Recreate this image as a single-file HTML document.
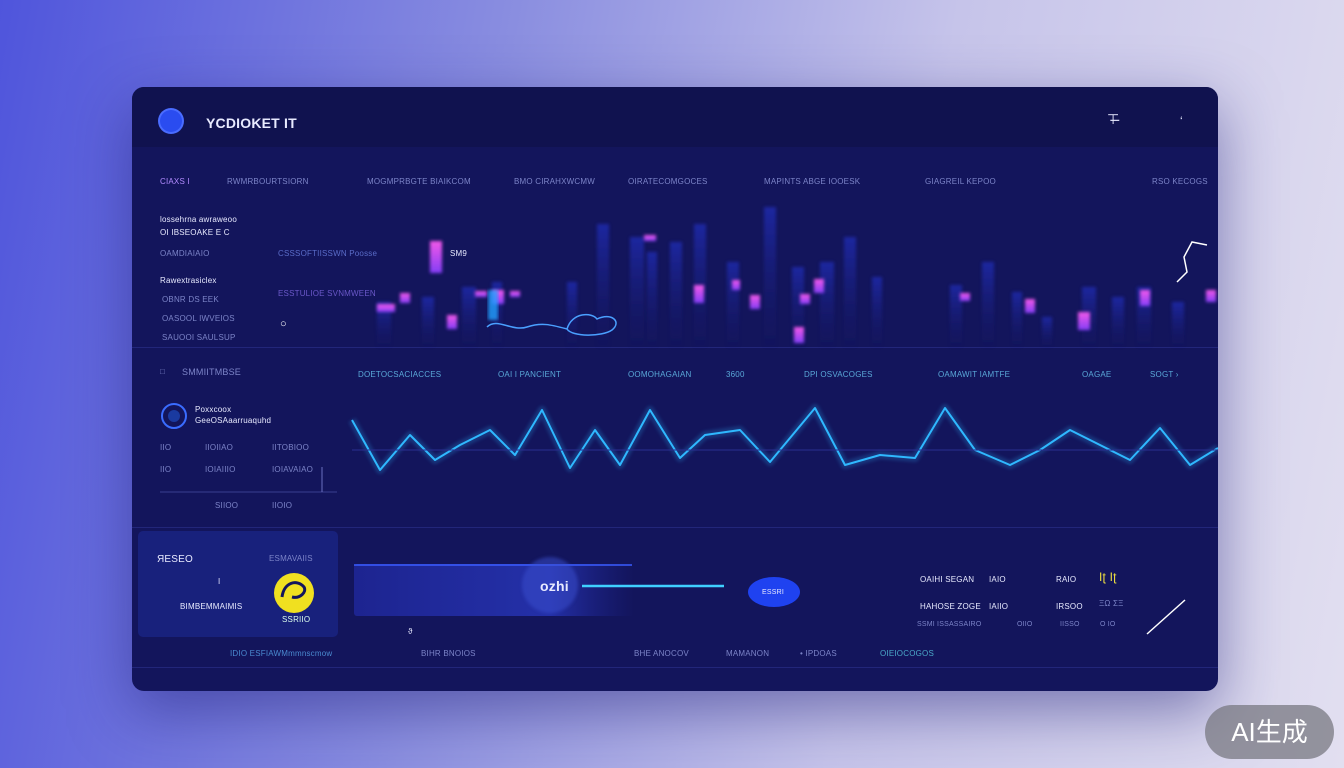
<!DOCTYPE html><html><head><meta charset="utf-8"><style>
body{margin:0;width:1344px;height:768px;overflow:hidden;background:linear-gradient(100deg,#4f55dc 0%,#8a8ee0 35%,#c6c4ea 65%,#e2dff0 100%);font-family:"Liberation Sans",sans-serif;position:relative}
.p{position:absolute;left:132px;top:87px;width:1086px;height:604px;background:#13155c;border-radius:12px;box-shadow:0 20px 60px rgba(30,30,120,.5);overflow:hidden}
.t{position:absolute;color:#7c84c8;font-size:8px;white-space:nowrap;letter-spacing:.2px}
.w{color:#e8eaff}
</style></head><body>
<div class="p">
<div style="position:absolute;left:0;top:0;width:1086px;height:60px;background:#10124f"></div>
<div style="position:absolute;left:28px;top:23px;width:22px;height:22px;border-radius:50%;background:#2a4cf0;box-shadow:0 0 0 2px #4a6cff"></div>
<div class="t w" style="left:74px;top:28px;font-size:14px;font-weight:bold">YCDIOKET IT</div>
<div class="t w" style="left:975px;top:24px;font-size:14px">⊤̶</div>
<div class="t w" style="left:1048px;top:27px;font-size:12px">‘</div>
<div style="position:absolute;left:0;top:260px;width:1086px;height:1px;background:#22267a"></div>
<div style="position:absolute;left:0;top:440px;width:1086px;height:1px;background:#22267a"></div>
<div style="position:absolute;left:0;top:580px;width:1086px;height:1px;background:#22267a"></div>
<div class="t" style="left:28px;top:90px;color:#b28bff">CIAXS I</div>
<div class="t" style="left:95px;top:90px">RWMRBOURTSIORN</div>
<div class="t" style="left:235px;top:90px">MOGMPRBGTE BIAIKCOM</div>
<div class="t" style="left:382px;top:90px">BMO CIRAHXWCMW</div>
<div class="t" style="left:496px;top:90px">OIRATECOMGOCES</div>
<div class="t" style="left:632px;top:90px">MAPINTS ABGE IOOESK</div>
<div class="t" style="left:793px;top:90px">GIAGREIL KEPOO</div>
<div class="t" style="left:1020px;top:90px">RSO KECOGS</div>
<div class="t w" style="left:28px;top:128px">lossehrna awraweoo</div>
<div class="t w" style="left:28px;top:141px">OI IBSEOAKE E C</div>
<div class="t" style="left:28px;top:162px">OAMDIAIAIO</div>
<div class="t w" style="left:28px;top:189px">Rawextrasiclex</div>
<div class="t" style="left:30px;top:208px">OBNR DS EEK</div>
<div class="t" style="left:30px;top:227px">OASOOL IWVEIOS</div>
<div class="t" style="left:30px;top:246px">SAUOOI SAULSUP</div>
<div class="t" style="left:146px;top:162px;color:#5a6cc8">CSSSOFTIISSWN Poosse</div>
<div class="t w" style="left:318px;top:162px">SM9</div>
<div class="t" style="left:146px;top:202px;color:#6a58c8">ESSTULIOE SVNMWEEN</div>
<div class="t" style="left:148px;top:231px;color:#fff;font-size:11px">○</div>
<svg style="position:absolute;left:0;top:0" width="1086" height="604">
<defs><linearGradient id="b" x1="0" y1="0" x2="0" y2="1"><stop offset="0" stop-color="#2536d8"/><stop offset="1" stop-color="#1a1d70" stop-opacity=".1"/></linearGradient>
<linearGradient id="m" x1="0" y1="0" x2="0" y2="1"><stop offset="0" stop-color="#ff5cf0"/><stop offset="1" stop-color="#8a40ff"/></linearGradient>
<linearGradient id="h" x1="0" y1="0" x2="1" y2="0"><stop offset="0" stop-color="#1d2490"/><stop offset=".7" stop-color="#2430a8"/><stop offset="1" stop-color="#1d2490" stop-opacity="0"/></linearGradient>
<filter id="f"><feGaussianBlur stdDeviation="1.5"/></filter></defs>
<g fill="url(#b)" opacity=".55" filter="url(#f)">
<rect x="245" y="215" width="14" height="45"/><rect x="290" y="210" width="12" height="50"/><rect x="330" y="200" width="14" height="60"/><rect x="360" y="195" width="10" height="65"/>
<rect x="435" y="195" width="10" height="65"/><rect x="465" y="137" width="12" height="123"/><rect x="498" y="150" width="14" height="110"/><rect x="515" y="165" width="10" height="95"/>
<rect x="538" y="155" width="12" height="105"/><rect x="562" y="137" width="12" height="123"/><rect x="595" y="175" width="12" height="85"/><rect x="632" y="120" width="12" height="140"/>
<rect x="660" y="180" width="12" height="80"/><rect x="688" y="175" width="14" height="85"/><rect x="712" y="150" width="12" height="110"/><rect x="740" y="190" width="10" height="70"/>
<rect x="818" y="198" width="12" height="62"/><rect x="850" y="175" width="12" height="85"/><rect x="880" y="205" width="10" height="55"/><rect x="910" y="230" width="10" height="30"/>
<rect x="950" y="200" width="14" height="60"/><rect x="980" y="210" width="12" height="50"/><rect x="1005" y="200" width="14" height="60"/><rect x="1040" y="215" width="12" height="45"/>
</g>
<g fill="url(#m)" filter="url(#f)" opacity=".95">
<rect x="298" y="154" width="12" height="32"/><rect x="245" y="217" width="18" height="8"/><rect x="268" y="206" width="10" height="10"/><rect x="315" y="228" width="10" height="14"/>
<rect x="343" y="204" width="12" height="6"/><rect x="360" y="203" width="12" height="14"/><rect x="378" y="204" width="10" height="6"/><rect x="512" y="148" width="12" height="6"/>
<rect x="562" y="198" width="10" height="18"/><rect x="600" y="193" width="8" height="10"/><rect x="618" y="208" width="10" height="14"/><rect x="662" y="240" width="10" height="16"/>
<rect x="682" y="192" width="10" height="14"/><rect x="668" y="207" width="10" height="10"/><rect x="828" y="206" width="10" height="8"/><rect x="893" y="212" width="10" height="14"/>
<rect x="946" y="225" width="12" height="18"/><rect x="1008" y="203" width="10" height="16"/><rect x="1074" y="203" width="10" height="12"/>
</g>
<rect x="356" y="203" width="10" height="30" fill="#24a0ff" opacity=".8" filter="url(#f)"/>
<path d="M355 240 C365 230,380 245,395 240 S420 238,435 242 C440 225,460 225,465 232 C480 225,490 235,480 243 C470 250,440 250,435 242" fill="none" stroke="#4aa0ff" stroke-width="1.5"/>
<path d="M1045 195 L1055 185 L1052 170 L1060 155 L1075 158" fill="none" stroke="#fff" stroke-width="1.5"/>
<polyline points="220,333 248,383 278,348 303,373 328,358 358,343 383,368 410,323 438,381 463,343 488,378 518,323 548,371 573,348 608,343 638,375 683,321 713,378 748,368 783,371 813,321 843,363 878,378 908,363 938,343 968,358 998,373 1028,341 1058,378 1086,361" fill="none" stroke="#2fb8ff" stroke-width="8" stroke-linejoin="round" opacity=".2" filter="url(#f)"/>
<polyline points="220,333 248,383 278,348 303,373 328,358 358,343 383,368 410,323 438,381 463,343 488,378 518,323 548,371 573,348 608,343 638,375 683,321 713,378 748,368 783,371 813,321 843,363 878,378 908,363 938,343 968,358 998,373 1028,341 1058,378 1086,361" fill="none" stroke="#2fb8ff" stroke-width="2" stroke-linejoin="round"/>
<line x1="220" y1="363" x2="1086" y2="363" stroke="#2a2e90" stroke-width="1"/>
<rect x="222" y="477" width="280" height="52" fill="url(#h)" rx="3"/>
<line x1="222" y1="478" x2="500" y2="478" stroke="#3a5cff" stroke-width="1.5"/>
<circle cx="418" cy="498" r="28" fill="#3a50d0" opacity=".5" filter="url(#f)"/>
<line x1="450" y1="499" x2="592" y2="499" stroke="#3fd0ff" stroke-width="2.5"/>
<ellipse cx="642" cy="505" rx="26" ry="15" fill="#1f42f0"/>
<line x1="1015" y1="547" x2="1053" y2="513" stroke="#fff" stroke-width="1.5"/>
<rect x="6" y="444" width="200" height="106" fill="#1a2280" rx="5" opacity=".9"/>
<circle cx="162" cy="506" r="20" fill="#f0e020"/><path d="M150 510 C152 495,165 492,172 500 C175 505,168 512,160 510" fill="none" stroke="#13155c" stroke-width="3"/>
<circle cx="42" cy="329" r="12" fill="none" stroke="#3a6cff" stroke-width="2"/><circle cx="42" cy="329" r="6" fill="#1a3aa0"/>
<line x1="28" y1="405" x2="205" y2="405" stroke="#3a3e90" stroke-width="1"/>
<line x1="190" y1="380" x2="190" y2="405" stroke="#6a6ec0"/>
</svg>
<div class="t" style="left:50px;top:280px;font-size:9px">SMMIITMBSE</div>
<div class="t" style="left:28px;top:280px">□</div>
<div class="t" style="left:226px;top:283px;color:#5aa8d8">DOETOCSACIACCES</div>
<div class="t" style="left:366px;top:283px;color:#5aa8d8">OAI I PANCIENT</div>
<div class="t" style="left:496px;top:283px;color:#5aa8d8">OOMOHAGAIAN</div>
<div class="t" style="left:594px;top:283px;color:#5aa8d8">3600</div>
<div class="t" style="left:672px;top:283px;color:#5aa8d8">DPI OSVACOGES</div>
<div class="t" style="left:806px;top:283px;color:#5aa8d8">OAMAWIT IAMTFE</div>
<div class="t" style="left:950px;top:283px;color:#5aa8d8">OAGAE</div>
<div class="t" style="left:1018px;top:283px;color:#5aa8d8">SOGT ›</div>
<div class="t w" style="left:63px;top:318px">Poxxcoox</div>
<div class="t w" style="left:63px;top:329px">GeeOSAaarruaquhd</div>
<div class="t" style="left:28px;top:356px">IIO</div><div class="t" style="left:73px;top:356px">IIOIIAO</div><div class="t" style="left:140px;top:356px">IITOBIOO</div>
<div class="t" style="left:28px;top:378px">IIO</div><div class="t" style="left:73px;top:378px">IOIAIIIO</div><div class="t" style="left:140px;top:378px">IOIAVAIAO</div>
<div class="t" style="left:83px;top:414px">SIIOO</div><div class="t" style="left:140px;top:414px">IIOIO</div>
<div class="t w" style="left:25px;top:467px;font-size:10px">ЯESEO</div>
<div class="t" style="left:137px;top:467px">ESMAVAIIS</div>
<div class="t w" style="left:86px;top:490px">I</div>
<div class="t w" style="left:48px;top:515px">BIMBEMMAIMIS</div>
<div class="t" style="left:150px;top:528px;color:#dfe">SSRIIO</div>
<div class="t w" style="left:408px;top:491px;font-size:14px;font-weight:bold">ozhi</div>
<div class="t w" style="left:630px;top:502px;font-size:7px">ESSRI</div>
<div class="t w" style="left:276px;top:540px">ϑ</div>
<div class="t w" style="left:788px;top:488px">OAIHI SEGAN</div><div class="t w" style="left:857px;top:488px">IAIO</div><div class="t w" style="left:924px;top:488px">RAIO</div>
<div class="t" style="left:967px;top:483px;color:#f0e040;font-size:12px">Iʈ Iʈ</div>
<div class="t w" style="left:788px;top:515px">HAHOSE ZOGE</div><div class="t w" style="left:857px;top:515px">IAIIO</div><div class="t w" style="left:924px;top:515px">IRSOO</div>
<div class="t" style="left:967px;top:512px">ΞΩ ΣΞ</div>
<div class="t" style="left:785px;top:534px;font-size:7px">SSMI ISSASSAIRO</div><div class="t" style="left:885px;top:534px;font-size:7px">OIIO</div><div class="t" style="left:928px;top:534px;font-size:7px">IISSO</div><div class="t" style="left:968px;top:534px;font-size:7px">O IO</div>
<div class="t" style="left:98px;top:562px;color:#4a8ad0">IDIO ESFIAWMmmnscmow</div>
<div class="t" style="left:289px;top:562px">BIHR BNOIOS</div>
<div class="t" style="left:502px;top:562px">BHE ANOCOV</div>
<div class="t" style="left:594px;top:562px">MAMANON</div>
<div class="t" style="left:668px;top:562px">• IPDOAS</div>
<div class="t" style="left:748px;top:562px;color:#4aa8c8">OIEIOCOGOS</div>
</div>
<div style="position:absolute;left:1205px;top:705px;width:129px;height:54px;border-radius:27px;background:rgba(120,120,130,.75);color:#fff;font-family:'Liberation Sans','Noto Sans CJK SC',sans-serif;font-size:26px;line-height:54px;text-align:center">AI生成</div>
</body></html>
